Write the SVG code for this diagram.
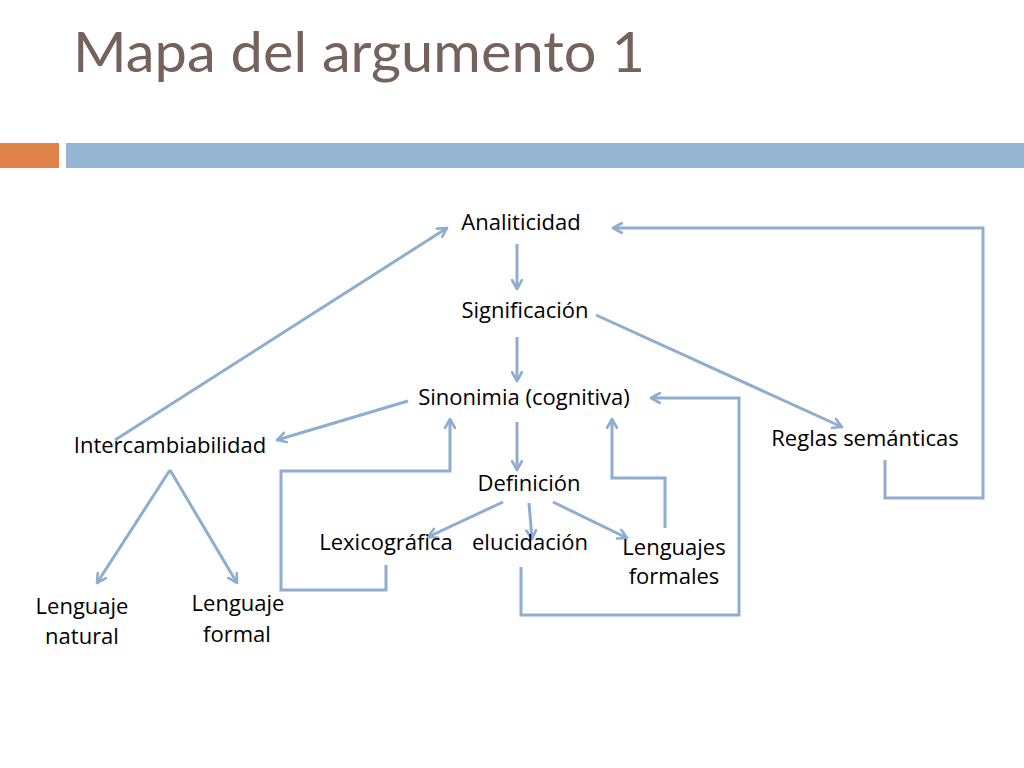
<svg xmlns="http://www.w3.org/2000/svg" width="1024" height="768" viewBox="0 0 1024 768">
<defs>
<marker id="arr" viewBox="0 0 12 12" refX="10" refY="6" markerWidth="12" markerHeight="12" markerUnits="userSpaceOnUse" orient="auto">
<path d="M1,1 L10,6 L1,11" fill="none" stroke="#8EADCF" stroke-width="2.6" stroke-linecap="round" stroke-linejoin="round"/>
</marker>
</defs>
<style>
.lbl{font-family:"Open Sans","Liberation Sans",sans-serif;font-size:22px;fill:#000;text-anchor:middle}
.c{fill:none;stroke:#8EADCF;stroke-width:3;stroke-linejoin:miter}
.a{marker-end:url(#arr)}
</style>
<rect width="1024" height="768" fill="#fff"/>
<text x="73" y="72" font-family="Lato,'Open Sans',sans-serif" font-size="56" fill="#75625A" textLength="572" lengthAdjust="spacingAndGlyphs">Mapa del argumento 1</text>
<rect x="0" y="143" width="59" height="25" fill="#E0834A"/>
<rect x="66" y="143" width="958" height="25" fill="#94B6D2"/>

<g id="connectors">
<line class="c a" x1="115" y1="440" x2="447" y2="228"/>
<line class="c a" x1="517" y1="244" x2="517" y2="289"/>
<line class="c a" x1="517" y1="337" x2="517" y2="381"/>
<line class="c a" x1="596" y1="315" x2="842" y2="427"/>
<polyline class="c a" points="885,460 885,498 983,498 983,228 613,228"/>
<line class="c a" x1="408" y1="401" x2="277" y2="440"/>
<line class="c a" x1="517" y1="422" x2="517" y2="470"/>
<line class="c a" x1="503" y1="502" x2="428" y2="537"/>
<line class="c a" x1="529" y1="503" x2="532" y2="539"/>
<line class="c a" x1="553" y1="502" x2="627" y2="538"/>
<polyline class="c a" points="386,565 386,590 281,590 281,471 450,471 450,419"/>
<polyline class="c a" points="665,528 665,478 612,478 612,419"/>
<polyline class="c a" points="521,567 521,615 739,615 739,398 651,398"/>
<line class="c a" x1="170" y1="470" x2="97" y2="583"/>
<line class="c a" x1="170" y1="470" x2="237" y2="583"/>
</g>

<g id="n-analiticidad"><text class="lbl" x="521" y="230">Analiticidad</text></g>
<g id="n-significacion"><text class="lbl" x="525" y="318">Significación</text></g>
<g id="n-sinonimia"><text class="lbl" x="524" y="405">Sinonimia (cognitiva)</text></g>
<g id="n-reglas"><text class="lbl" x="865" y="446">Reglas semánticas</text></g>
<g id="n-definicion"><text class="lbl" x="529" y="491">Definición</text></g>
<g id="n-lexicografica"><text class="lbl" x="386" y="550">Lexicográfica</text></g>
<g id="n-elucidacion"><text class="lbl" x="530" y="550">elucidación</text></g>
<g id="n-lenguajes-formales"><text class="lbl" x="674" y="555">Lenguajes</text><text class="lbl" x="674" y="584">formales</text></g>
<g id="n-intercambiabilidad"><text class="lbl" x="170" y="453">Intercambiabilidad</text></g>
<g id="n-lenguaje-natural"><text class="lbl" x="82" y="614">Lenguaje</text><text class="lbl" x="82" y="644">natural</text></g>
<g id="n-lenguaje-formal"><text class="lbl" x="238" y="611">Lenguaje</text><text class="lbl" x="237" y="642">formal</text></g>
</svg>
